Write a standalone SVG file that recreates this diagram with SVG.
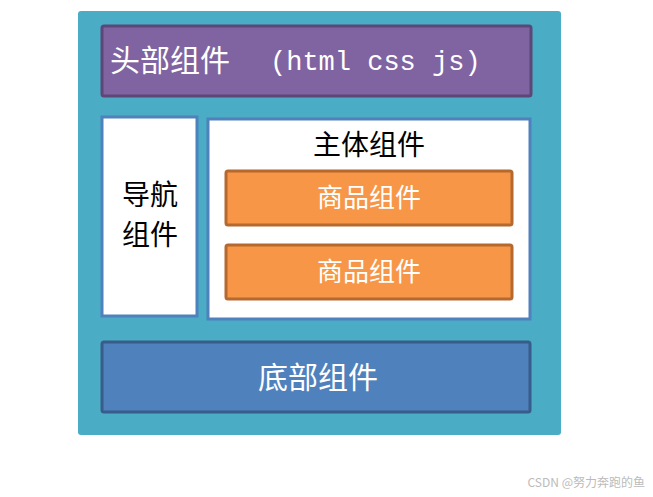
<svg xmlns="http://www.w3.org/2000/svg" width="653" height="497" viewBox="0 0 653 497">
<style>
.cjk{font-family:"Noto Sans CJK SC","Liberation Sans",sans-serif}
.w{fill:#fff}
.orange{fill:#f79646;stroke:#b5692f;stroke-width:3}
.blue{stroke:#4f81bd;stroke-width:3;fill:#fff}
</style>
<rect width="653" height="497" fill="#fff"/>
<g id="container"><rect x="78" y="11" width="483" height="424" rx="3" fill="#4bacc6"/></g>
<g id="header"><rect x="102" y="26" width="429" height="70" rx="2" fill="#8064a2" stroke="#5c4776" stroke-width="3"/>
<text x="110" y="71" class="cjk w" font-size="30">头部组件</text>
<text x="270" y="70" class="w" font-family="Liberation Mono,monospace" font-size="27">(html css js)</text></g>
<g id="nav"><rect x="102" y="117" width="95" height="199" class="blue"/>
<text x="150" y="205" class="cjk" font-size="28" text-anchor="middle">导航</text>
<text x="150" y="245" class="cjk" font-size="28" text-anchor="middle">组件</text></g>
<g id="main"><rect x="208" y="119" width="322" height="200" class="blue"/>
<text x="369" y="155" class="cjk" font-size="28" text-anchor="middle">主体组件</text></g>
<g id="item1"><rect x="226" y="171" width="286" height="54" rx="2" class="orange"/>
<text x="369" y="207" class="cjk w" font-size="26" text-anchor="middle">商品组件</text></g>
<g id="item2"><rect x="226" y="245" width="286" height="54" rx="2" class="orange"/>
<text x="369" y="281" class="cjk w" font-size="26" text-anchor="middle">商品组件</text></g>
<g id="footer"><rect x="102" y="342" width="428" height="70" rx="2" fill="#4f81bd" stroke="#385d8a" stroke-width="3"/>
<text x="318" y="388" class="cjk w" font-size="30" text-anchor="middle">底部组件</text></g>
<g id="connectors"/>
<text x="645" y="487" class="cjk" font-size="12" fill="#bbb" text-anchor="end">CSDN @努力奔跑的鱼</text>
</svg>
